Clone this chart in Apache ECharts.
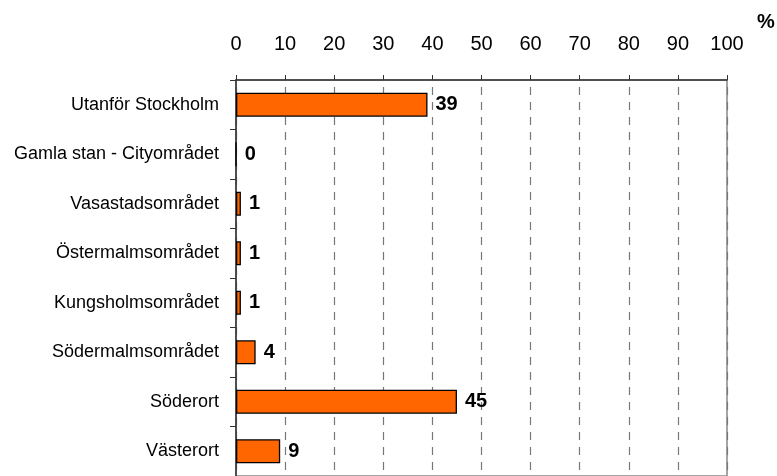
<!DOCTYPE html>
<html><head><meta charset="utf-8">
<script src="https://cdn.jsdelivr.net/npm/echarts@6/dist/echarts.min.js"></script>
<style>html,body{margin:0;padding:0;background:#fff}#c{width:777px;height:476px}</style>
</head><body><div id="c"></div>
<script>
const categories = ["Utanför Stockholm","Gamla stan - Cityområdet","Vasastadsområdet","Östermalmsområdet","Kungsholmsområdet","Södermalmsområdet","Söderort","Västerort"];
const values = [39, 0, 1, 1, 1, 4, 45, 9];
const xTicks = [0,10,20,30,40,50,60,70,80,90,100];
const unitLabel = '%';

const FONT = 'Arial, "Liberation Sans", sans-serif';
const chart = echarts.init(document.getElementById('c'));
chart.setOption({
  animation: false,
  backgroundColor: '#fff',
  grid: { left: 236, top: 80, width: 491, height: 406, containLabel: false,
          show: true, borderColor: '#888', borderWidth: 1.5, backgroundColor: 'transparent' },
  graphic: [{ type: 'text', left: 757, top: 12, style: { text: unitLabel, font: 'bold 20px ' + FONT, fill: '#000' } }],
  xAxis: {
    type: 'value', position: 'top', min: xTicks[0], max: xTicks[xTicks.length-1], interval: xTicks[1]-xTicks[0],
    axisLine: { show: true, lineStyle: { color: '#333', width: 1.5 } },
    axisTick: { show: true, length: 5, lineStyle: { color: '#333' } },
    axisLabel: { fontSize: 20, color: '#000', fontFamily: FONT, margin: 26 },
    splitLine: { show: true, lineStyle: { color: '#777', type: [8, 7], dashOffset: 8, width: 1.2 } }
  },
  yAxis: {
    type: 'category', inverse: true, data: categories,
    axisLine: { show: true, lineStyle: { color: '#333', width: 1.5 } },
    axisTick: { show: true, length: 6, lineStyle: { color: '#333' } },
    axisLabel: { fontSize: 18, color: '#000', fontFamily: FONT, margin: 17 }
  },
  series: [{
    type: 'bar', data: values, barWidth: 24,
    itemStyle: { color: '#FF6600', borderColor: '#000', borderWidth: 1.3 },
    label: { show: true, position: 'right', distance: 8, color: '#000', fontWeight: 'bold', fontSize: 20, fontFamily: FONT }
  }]
});
</script></body></html>
